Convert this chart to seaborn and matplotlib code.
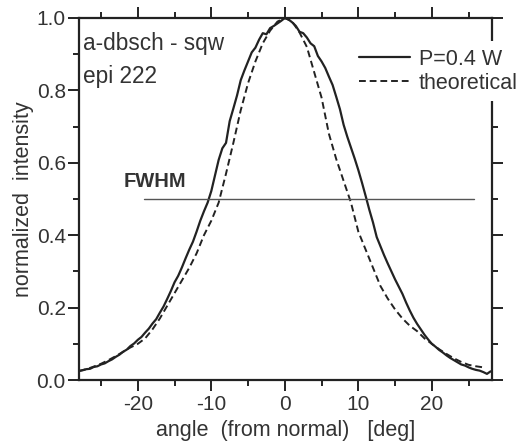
import numpy as np
import pandas as pd
import matplotlib
matplotlib.use("Agg")
import matplotlib.pyplot as plt
import seaborn as sns
from matplotlib.ticker import MultipleLocator, FormatStrFormatter

meas_angle = [-28.0, -27.5, -27.0, -26.5, -26.0, -25.5, -25.0, -24.5, -24.0, -23.5,
              -23.0, -22.5, -22.0, -21.5, -21.0, -20.5, -20.0, -19.5, -19.0, -18.5,
              -18.0, -17.5, -17.0, -16.5, -16.0, -15.5, -15.0, -14.5, -14.0, -13.5,
              -13.0, -12.5, -12.0, -11.5, -11.0, -10.5, -10.0, -9.5, -9.0, -8.5,
              -8.0, -7.5, -7.0, -6.5, -6.0, -5.5, -5.0, -4.5, -4.0, -3.5,
              -3.0, -2.5, -2.0, -1.5, -1.0, -0.5, 0.0, 0.5, 1.0, 1.5,
              2.0, 2.5, 3.0, 3.5, 4.0, 4.5, 5.0, 5.5, 6.0, 6.5,
              7.0, 7.5, 8.0, 8.5, 9.0, 9.5, 10.0, 10.5, 11.0, 11.5,
              12.0, 12.5, 13.0, 13.5, 14.0, 14.5, 15.0, 15.5, 16.0, 16.5,
              17.0, 17.5, 18.0, 18.5, 19.0, 19.5, 20.0, 20.5, 21.0, 21.5,
              22.0, 22.5, 23.0, 23.5, 24.0, 24.5, 25.0, 25.5, 26.0, 26.5,
              27.0, 27.5, 28.0]
meas_value = [0.025, 0.027, 0.030, 0.031, 0.036, 0.038, 0.043, 0.046, 0.052, 0.057,
              0.064, 0.070, 0.078, 0.084, 0.094, 0.101, 0.111, 0.119, 0.131, 0.142,
              0.156, 0.168, 0.186, 0.203, 0.224, 0.246, 0.270, 0.288, 0.311, 0.336,
              0.360, 0.382, 0.410, 0.440, 0.466, 0.490, 0.522, 0.565, 0.608, 0.640,
              0.655, 0.715, 0.750, 0.786, 0.828, 0.855, 0.880, 0.905, 0.918, 0.940,
              0.958, 0.955, 0.972, 0.978, 0.985, 0.992, 1.000, 0.996, 0.988, 0.978,
              0.962, 0.958, 0.946, 0.930, 0.922, 0.895, 0.880, 0.862, 0.838, 0.815,
              0.782, 0.748, 0.705, 0.672, 0.642, 0.612, 0.580, 0.545, 0.508, 0.470,
              0.435, 0.395, 0.370, 0.345, 0.322, 0.300, 0.278, 0.258, 0.238, 0.214,
              0.192, 0.172, 0.155, 0.140, 0.125, 0.112, 0.100, 0.092, 0.083, 0.076,
              0.068, 0.061, 0.055, 0.049, 0.043, 0.040, 0.035, 0.031, 0.028, 0.026,
              0.022, 0.017, 0.024]

# theoretical profile, 1 deg steps
theo_angle = [-28, -27, -26, -25, -24, -23, -22, -21, -20, -19, -18, -17, -16, -15,
              -14, -13, -12, -11, -10, -9, -8, -7, -6, -5, -4, -3, -2, -1, 0,
              1, 2, 3, 4, 5, 6, 7, 8, 9, 10, 11, 12, 13, 14, 15, 16, 17, 18, 19,
              20, 21, 22, 23, 24, 25, 26, 27]
theo_value = [0.025, 0.030, 0.037, 0.045, 0.055, 0.066, 0.078, 0.090, 0.100, 0.115,
              0.140, 0.170, 0.205, 0.240, 0.275, 0.310, 0.350, 0.400, 0.440, 0.490,
              0.570, 0.655, 0.745, 0.820, 0.880, 0.930, 0.965, 0.990, 1.000,
              0.990, 0.960, 0.920, 0.850, 0.780, 0.680, 0.610, 0.550, 0.490, 0.410,
              0.360, 0.310, 0.260, 0.225, 0.195, 0.170, 0.150, 0.135, 0.115, 0.100,
              0.085, 0.072, 0.060, 0.050, 0.042, 0.038, 0.035]

series_labels = ["P=0.4 W", "theoretical"]
fwhm_level = 0.5
fwhm_range = [-19.2, 25.8]

sns.set_style("ticks")
plt.rcParams['font.family'] = ['Liberation Sans', 'DejaVu Sans']
plt.rcParams['axes.unicode_minus'] = False

meas_df = pd.DataFrame({"angle": meas_angle, "value": meas_value})
theo_df = pd.DataFrame({"angle": theo_angle, "value": theo_value})

fig = plt.figure(figsize=(5.18, 4.45), dpi=100)
ax = fig.add_axes([0.1525, 0.146, 0.7975, 0.8136])

line_col = "#222222"
text_col = "#333333"

sns.lineplot(data=meas_df, x="angle", y="value", ax=ax, color=line_col,
             linewidth=1.6, label=series_labels[0], estimator=None, sort=False)
sns.lineplot(data=theo_df, x="angle", y="value", ax=ax, color=line_col,
             linewidth=1.4, linestyle=(0, (3.5, 2.0)), label=series_labels[1],
             estimator=None, sort=False)

ax.plot(fwhm_range, [fwhm_level, fwhm_level], color="#555555", linewidth=1.0)
ax.text(-21.9, 0.533, "FWHM", fontsize=14.5, fontweight="bold", color=text_col,
        va="baseline")

ax.text(-27.4, 0.912, "a-dbsch - sqw", fontsize=16.3, color=text_col, va="baseline")
ax.text(-27.4, 0.820, "epi 222", fontsize=16.3, color=text_col, va="baseline")

ax.set_xlim(-28, 28.2)
ax.set_ylim(0, 1.0)
ax.xaxis.set_major_locator(MultipleLocator(10))
ax.xaxis.set_minor_locator(MultipleLocator(5))
ax.yaxis.set_major_locator(MultipleLocator(0.2))
ax.yaxis.set_minor_locator(MultipleLocator(0.1))
ax.yaxis.set_major_formatter(FormatStrFormatter("%.1f"))

for s in ax.spines.values():
    s.set_visible(True)
    s.set_linewidth(1.6)
    s.set_color(line_col)

ax.tick_params(which="both", direction="out", top=True, right=True,
               color=line_col, width=1.4, labelsize=15, labelcolor=text_col)
ax.tick_params(which="major", length=8)
ax.tick_params(which="minor", length=4.5)
ax.tick_params(axis="x", which="major", pad=3)
ax.tick_params(axis="y", which="major", pad=1.5)

ax.set_xlabel("angle  (from normal)   [deg]", fontsize=15.5, color=text_col, labelpad=4)
ax.set_ylabel("normalized  intensity", fontsize=15.5, color=text_col, labelpad=2)

leg = ax.legend(loc="center left", bbox_to_anchor=(0.659, 0.853), frameon=True,
                fontsize=15.5, handlelength=2.4, handletextpad=0.38,
                borderpad=0.35, labelspacing=0.15, borderaxespad=0)
leg.get_frame().set_facecolor("white")
leg.get_frame().set_edgecolor("none")
leg.get_frame().set_alpha(1.0)
leg.set_zorder(10)
for t in leg.get_texts():
    t.set_color(text_col)

fig.savefig("out.png", dpi=100, facecolor="white")
